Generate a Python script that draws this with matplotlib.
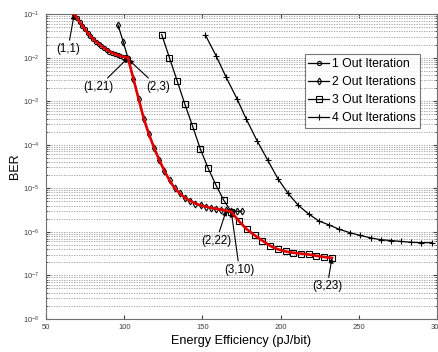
import numpy as np
import matplotlib
matplotlib.use("Agg")
import matplotlib.pyplot as plt
from matplotlib.ticker import LogLocator, FixedLocator

plt.rcParams['font.family'] = ['Liberation Sans', 'DejaVu Sans']
plt.rcParams['mathtext.fontset'] = 'custom'
plt.rcParams['mathtext.rm'] = 'Liberation Sans'
plt.rcParams['mathtext.it'] = 'Liberation Sans'

# Energy efficiency (pJ/bit) and log10(BER) for each number of outer iterations
e1 = [68.0, 69.7, 71.4, 73.2, 74.9, 76.6, 78.4, 80.1, 81.8, 83.6, 85.3,
      87.0, 88.8, 90.5, 92.2, 94.0, 95.7, 97.4, 99.2, 100.9, 102.6]
b1 = [-1.00, -1.09, -1.18, -1.27, -1.35, -1.43, -1.50, -1.57, -1.63, -1.68, -1.73,
      -1.78, -1.82, -1.86, -1.89, -1.92, -1.94, -1.96, -1.98, -1.99, -2.00]

e2 = [96.0, 99.3, 102.6, 105.9, 109.2, 112.5, 115.8, 119.1, 122.4, 125.7, 129.0,
      132.3, 135.6, 138.9, 142.2, 145.5, 148.8, 152.1, 155.4, 158.7, 162.0,
      165.3, 168.6, 171.9, 175.2]
b2 = [-1.25, -1.63, -2.04, -2.49, -2.95, -3.40, -3.76, -4.07, -4.35, -4.60, -4.82,
      -5.00, -5.12, -5.22, -5.29, -5.35, -5.39, -5.42, -5.45, -5.47, -5.49,
      -5.51, -5.52, -5.53, -5.53]

e3 = [124.0, 128.9, 133.9, 138.8, 143.8, 148.7, 153.7, 158.6, 163.6, 168.5, 173.5,
      178.4, 183.4, 188.3, 193.3, 198.2, 203.2, 208.1, 213.1, 218.0, 223.0,
      227.9, 232.9]
b3 = [-1.47, -2.00, -2.54, -3.07, -3.58, -4.10, -4.54, -4.92, -5.27, -5.54, -5.76,
      -5.94, -6.08, -6.20, -6.32, -6.40, -6.45, -6.48, -6.50, -6.52, -6.55,
      -6.58, -6.60]

e4 = [151.9, 158.8, 165.2, 172.2, 178.2, 185.0, 191.9, 198.3, 204.7, 211.3, 218.0,
      224.5, 230.9, 237.4, 244.4, 250.8, 257.7, 264.0, 270.5, 276.9, 283.3,
      289.7, 297.0]
b4 = [-1.48, -1.96, -2.45, -2.95, -3.42, -3.91, -4.36, -4.78, -5.11, -5.39, -5.59,
      -5.75, -5.84, -5.94, -6.02, -6.08, -6.14, -6.18, -6.20, -6.22, -6.24,
      -6.25, -6.25]

labels = ['1 Out Iteration', '2 Out Iterations', '3 Out Iterations', '4 Out Iterations']
x_ticks = [50, 100, 150, 200, 250, 300]

def ber(v):
    return 10.0 ** np.asarray(v)

fig = plt.figure(figsize=(4.39, 3.52), dpi=100)
ax = fig.add_axes([0.105, 0.094, 0.89, 0.866])

common = dict(color='k', lw=0.9, mfc='none', mew=0.8)
ax.plot(e1, ber(b1), marker='o', ms=3.0, label=labels[0], **common)
ax.plot(e2, ber(b2), marker='d', ms=3.5, label=labels[1], **common)
ax.plot(e3, ber(b3), marker='s', ms=5.0, label=labels[2], **common)
ax.plot(e4, ber(b4), marker='+', ms=4.5, label=labels[3], **common)

# Best operating envelope: iteration 1, then 2 (inner 3..22), then 3 (inner 10..23)
env_e = e1 + e2[2:22] + e3[9:23]
env_b = b1 + b2[2:22] + b3[9:23]
ax.plot(env_e, ber(env_b), color='#e00000', lw=1.9, zorder=5)

ax.set_yscale('log')
ax.set_xlim(50, 300)
ax.set_ylim(1e-8, 1e-1)
ax.xaxis.set_major_locator(FixedLocator(x_ticks))
ax.yaxis.set_major_locator(LogLocator(base=10, numticks=20))
ax.yaxis.set_minor_locator(LogLocator(base=10, subs=np.arange(2, 10), numticks=20))
ax.grid(True, which='both', axis='y', ls=(0, (1.5, 1.5)), color='#9a9a9a', lw=0.6)
ax.tick_params(which='both', direction='in', top=True, right=True,
               labelsize=5.5, colors='#404040', length=3)
ax.tick_params(which='minor', length=1.5)
ax.tick_params(axis='y', pad=5)
for s in ax.spines.values():
    s.set_color('#707070')
    s.set_linewidth(0.8)

ax.set_xlabel('Energy Efficiency (pJ/bit)', fontsize=9.1, labelpad=3)
ax.set_ylabel('BER', fontsize=9, labelpad=1)

ap = dict(arrowstyle='-|>', color='k', lw=0.8, mutation_scale=7, shrinkA=0, shrinkB=0)
tk = dict(fontsize=8.3, ha='center', va='center')
ax.annotate('(1,1)', xy=(e1[0], ber(b1[0])), xytext=(64.0, 10 ** -1.80), arrowprops=ap, **tk)
ax.annotate('(1,21)', xy=(e1[20], ber(b1[20])), xytext=(83.6, 10 ** -2.67), arrowprops=ap, **tk)
ax.annotate('(2,3)', xy=(e2[2], ber(b2[2])), xytext=(121.5, 10 ** -2.67), arrowprops=ap, **tk)
ax.annotate('(2,22)', xy=(e2[21], ber(b2[21])), xytext=(159.0, 10 ** -6.20), arrowprops=ap, **tk)
ax.annotate('(3,10)', xy=(e3[9], ber(b3[9])), xytext=(173.7, 10 ** -6.87), arrowprops=ap, **tk)
ax.annotate('(3,23)', xy=(e3[22], ber(b3[22])), xytext=(229.9, 10 ** -7.25), arrowprops=ap, **tk)

leg = ax.legend(loc='upper left', bbox_to_anchor=(0.662, 0.868), fontsize=8.8,
                frameon=True, fancybox=False, handlelength=1.7, handletextpad=0.25,
                borderpad=0.3, labelspacing=0.5, borderaxespad=0)
leg.get_frame().set_edgecolor('#555555')
leg.get_frame().set_linewidth(0.8)
leg.set_zorder(10)

fig.savefig('out.png', dpi=100, facecolor='white')
